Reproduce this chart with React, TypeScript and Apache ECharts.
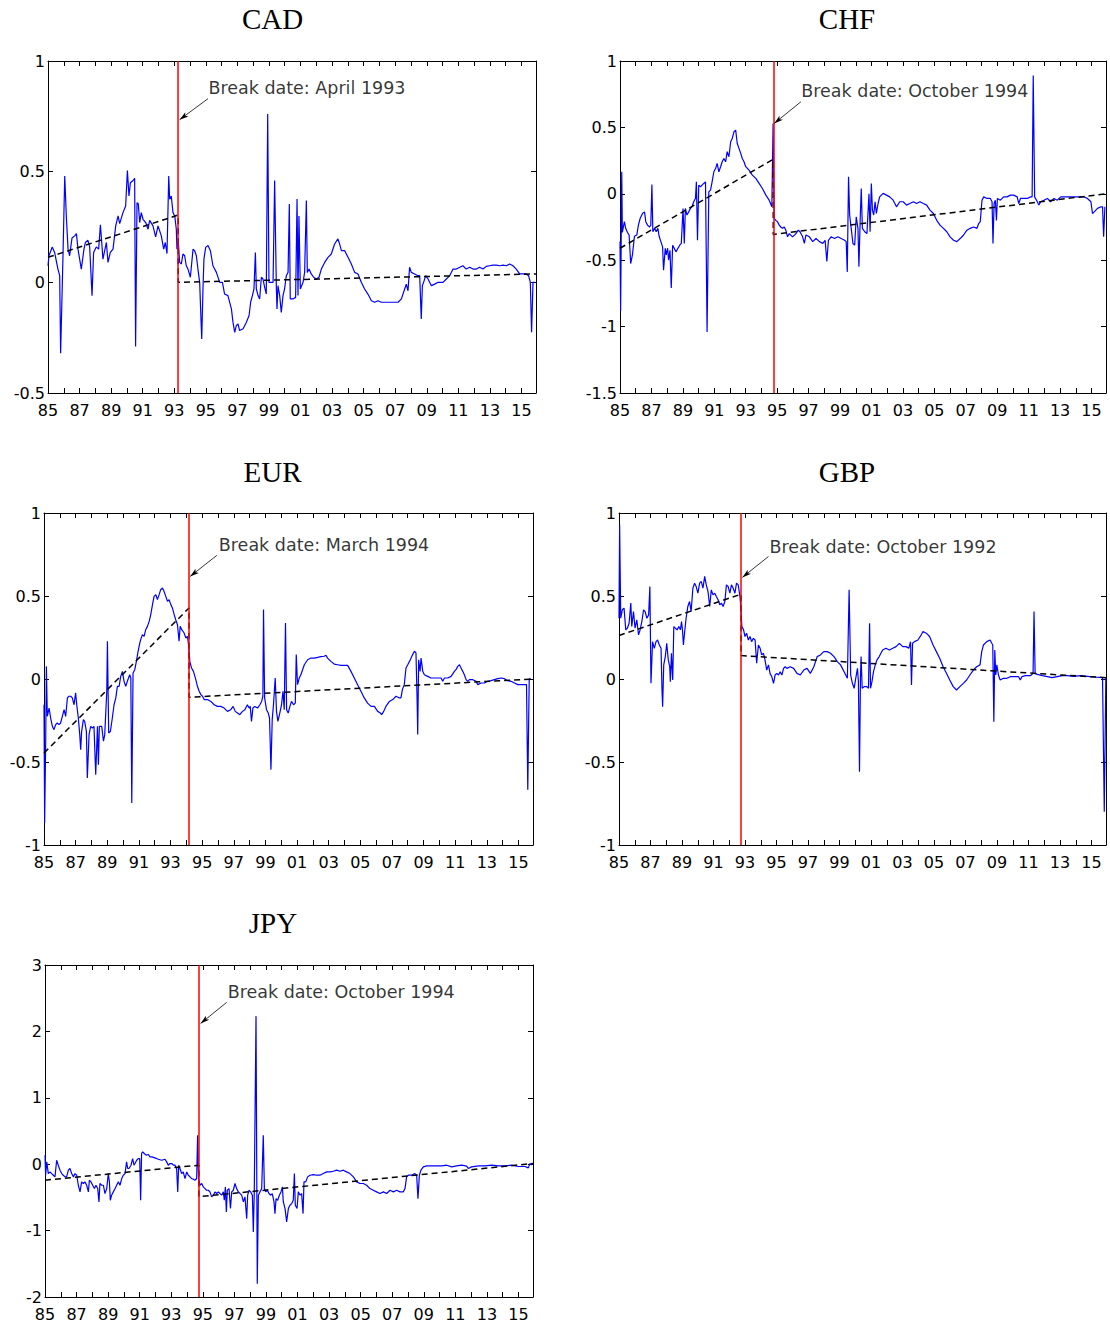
import React, { useEffect, useRef } from 'react';
import * as echarts from 'echarts';

const X_MIN = 1985;
const X_MAX = 2015.92;

// [year, value]
const cadData: [number, number][] = [
  [1985.00,0.075],[1985.06,0.12],[1985.27,0.16],[1985.42,0.135],[1985.63,0.06],[1985.74,0.03],[1985.80,-0.32],[1985.95,0.12],[1986.06,0.48],[1986.16,0.30],[1986.27,0.15],[1986.37,0.12],[1986.52,0.20],[1986.69,0.21],[1986.80,0.22],[1986.90,0.15],[1987.11,0.06],[1987.28,0.15],[1987.37,0.18],[1987.53,0.19],[1987.64,0.16],[1987.79,-0.06],[1987.89,0.135],[1988.06,0.16],[1988.21,0.15],[1988.32,0.26],[1988.42,0.165],[1988.48,0.105],[1988.70,0.18],[1988.80,0.09],[1988.95,0.135],[1989.12,0.15],[1989.29,0.255],[1989.44,0.30],[1989.54,0.265],[1989.75,0.315],[1989.92,0.345],[1990.03,0.505],[1990.13,0.39],[1990.22,0.45],[1990.39,0.46],[1990.49,0.47],[1990.55,-0.29],[1990.64,0.36],[1990.72,0.355],[1990.81,0.27],[1990.91,0.315],[1991.02,0.285],[1991.19,0.27],[1991.34,0.24],[1991.44,0.28],[1991.65,0.255],[1991.82,0.205],[1991.97,0.255],[1992.18,0.21],[1992.33,0.15],[1992.43,0.18],[1992.54,0.13],[1992.65,0.48],[1992.71,0.375],[1992.81,0.39],[1992.92,0.315],[1993.03,0.30],[1993.13,0.24],[1993.17,0.15],[1993.26,0.18],[1993.34,0.09],[1993.45,0.083],[1993.55,0.128],[1993.66,0.12],[1993.76,0.075],[1993.87,0.06],[1994.02,0.023],[1994.19,0.15],[1994.29,0.143],[1994.40,0.12],[1994.50,0.06],[1994.61,0.0],[1994.67,-0.12],[1994.74,-0.256],[1994.82,-0.03],[1994.88,0.105],[1994.99,0.158],[1995.14,0.166],[1995.29,0.143],[1995.45,0.075],[1995.67,0.045],[1995.88,0.0],[1996.05,0.0],[1996.19,-0.053],[1996.40,-0.06],[1996.62,-0.12],[1996.72,-0.18],[1996.83,-0.226],[1996.93,-0.196],[1997.04,-0.188],[1997.14,-0.218],[1997.36,-0.21],[1997.57,-0.18],[1997.74,-0.15],[1997.84,-0.09],[1997.95,-0.06],[1998.05,-0.03],[1998.14,0.135],[1998.20,-0.03],[1998.31,-0.06],[1998.41,-0.075],[1998.52,0.023],[1998.62,0.015],[1998.75,-0.03],[1998.83,-0.053],[1998.92,0.76],[1999.00,0.0],[1999.15,0.0],[1999.26,0.0],[1999.36,0.46],[1999.47,-0.03],[1999.51,-0.12],[1999.57,-0.015],[1999.68,-0.06],[1999.78,-0.136],[1999.89,-0.06],[1999.99,-0.03],[2000.10,0.03],[2000.21,0.045],[2000.29,0.354],[2000.35,-0.075],[2000.52,-0.075],[2000.69,-0.068],[2000.78,0.376],[2000.84,-0.06],[2000.90,0.30],[2000.99,-0.03],[2001.07,-0.015],[2001.16,0.0],[2001.26,0.045],[2001.37,0.37],[2001.43,0.045],[2001.54,0.06],[2001.68,0.038],[2001.83,0.023],[2002.00,0.015],[2002.17,0.023],[2002.32,0.06],[2002.53,0.09],[2002.74,0.113],[2002.95,0.128],[2003.16,0.173],[2003.37,0.196],[2003.48,0.173],[2003.59,0.143],[2003.80,0.143],[2004.01,0.113],[2004.22,0.083],[2004.43,0.045],[2004.64,0.038],[2004.85,0.0],[2005.06,-0.03],[2005.27,-0.053],[2005.49,-0.083],[2005.70,-0.09],[2005.91,-0.083],[2006.12,-0.09],[2006.33,-0.09],[2006.54,-0.09],[2006.86,-0.09],[2007.18,-0.09],[2007.39,-0.075],[2007.60,-0.03],[2007.70,-0.008],[2007.81,-0.038],[2007.91,0.068],[2008.02,0.045],[2008.23,0.038],[2008.44,0.03],[2008.55,0.03],[2008.65,-0.166],[2008.72,-0.015],[2008.80,0.0],[2008.93,0.03],[2009.08,0.015],[2009.29,-0.015],[2009.50,-0.008],[2009.71,0.0],[2010.03,0.0],[2010.24,0.015],[2010.45,0.03],[2010.66,0.06],[2010.87,0.06],[2011.09,0.068],[2011.29,0.075],[2011.50,0.06],[2011.72,0.068],[2011.93,0.06],[2012.14,0.06],[2012.35,0.068],[2012.56,0.06],[2012.77,0.072],[2012.98,0.075],[2013.19,0.078],[2013.41,0.078],[2013.62,0.075],[2013.83,0.078],[2014.04,0.075],[2014.25,0.083],[2014.46,0.075],[2014.67,0.06],[2014.88,0.038],[2015.31,0.038],[2015.45,0.03],[2015.56,0.0],[2015.64,-0.226],[2015.73,0.0],[2015.84,0.0]
];

const chfData: [number, number][] = [
  [1985.00,-0.36],[1985.04,-0.88],[1985.11,0.166],[1985.15,-0.29],[1985.28,-0.21],[1985.36,-0.26],[1985.47,-0.29],[1985.58,-0.31],[1985.68,-0.525],[1985.79,-0.46],[1985.92,-0.32],[1986.07,-0.31],[1986.17,-0.236],[1986.28,-0.186],[1986.43,-0.148],[1986.56,-0.136],[1986.64,-0.21],[1986.75,-0.236],[1986.88,-0.25],[1986.96,-0.236],[1987.03,0.07],[1987.09,-0.286],[1987.20,-0.26],[1987.30,-0.286],[1987.41,-0.26],[1987.49,-0.32],[1987.60,-0.36],[1987.71,-0.40],[1987.77,-0.575],[1987.88,-0.41],[1987.94,-0.46],[1988.03,-0.41],[1988.09,-0.50],[1988.18,-0.425],[1988.26,-0.71],[1988.35,-0.387],[1988.45,-0.41],[1988.56,-0.437],[1988.69,-0.41],[1988.80,-0.387],[1988.90,-0.374],[1989.01,-0.11],[1989.09,-0.374],[1989.16,-0.11],[1989.26,-0.16],[1989.37,-0.136],[1989.48,-0.11],[1989.58,-0.098],[1989.69,-0.06],[1989.80,-0.035],[1989.86,0.09],[1989.93,-0.35],[1990.01,0.065],[1990.12,0.053],[1990.22,0.065],[1990.33,0.078],[1990.44,0.09],[1990.54,-1.04],[1990.65,0.015],[1990.76,0.028],[1990.86,0.09],[1990.97,0.166],[1991.08,0.19],[1991.18,0.229],[1991.29,0.166],[1991.40,0.204],[1991.50,0.241],[1991.61,0.266],[1991.72,0.241],[1991.82,0.317],[1991.93,0.279],[1992.04,0.392],[1992.14,0.417],[1992.25,0.467],[1992.36,0.48],[1992.46,0.379],[1992.57,0.342],[1992.68,0.304],[1992.78,0.266],[1992.89,0.241],[1993.00,0.204],[1993.21,0.178],[1993.42,0.141],[1993.64,0.116],[1993.85,0.078],[1994.06,0.04],[1994.28,-0.01],[1994.49,-0.048],[1994.66,-0.098],[1994.74,0.53],[1994.81,-0.186],[1994.91,-0.2],[1995.02,-0.21],[1995.13,-0.236],[1995.23,-0.25],[1995.34,-0.26],[1995.45,-0.25],[1995.55,-0.274],[1995.66,-0.324],[1995.77,-0.30],[1995.98,-0.324],[1996.19,-0.30],[1996.34,-0.274],[1996.45,-0.286],[1996.62,-0.324],[1996.73,-0.374],[1996.83,-0.31],[1997.05,-0.324],[1997.26,-0.36],[1997.47,-0.337],[1997.69,-0.36],[1997.90,-0.374],[1998.05,-0.35],[1998.16,-0.51],[1998.26,-0.35],[1998.43,-0.324],[1998.65,-0.337],[1998.86,-0.324],[1999.07,-0.337],[1999.29,-0.35],[1999.39,-0.36],[1999.46,-0.588],[1999.54,0.128],[1999.61,-0.16],[1999.71,-0.26],[1999.82,-0.374],[1999.93,-0.387],[2000.03,-0.173],[2000.14,-0.26],[2000.20,-0.55],[2000.29,-0.16],[2000.35,0.04],[2000.42,-0.26],[2000.57,-0.286],[2000.71,-0.30],[2000.84,0.0],[2000.91,-0.286],[2000.99,0.078],[2001.06,-0.123],[2001.14,-0.16],[2001.23,-0.06],[2001.31,-0.148],[2001.42,-0.073],[2001.52,-0.023],[2001.74,0.003],[2001.95,-0.01],[2002.16,-0.023],[2002.38,-0.048],[2002.59,-0.098],[2002.80,-0.06],[2003.02,-0.06],[2003.23,-0.085],[2003.44,-0.073],[2003.66,-0.06],[2003.87,-0.073],[2004.08,-0.06],[2004.30,-0.073],[2004.51,-0.085],[2004.72,-0.123],[2004.94,-0.148],[2005.15,-0.2],[2005.36,-0.236],[2005.58,-0.26],[2005.79,-0.286],[2006.00,-0.324],[2006.22,-0.35],[2006.43,-0.36],[2006.64,-0.337],[2006.86,-0.31],[2007.07,-0.274],[2007.28,-0.26],[2007.50,-0.25],[2007.71,-0.26],[2007.82,-0.224],[2007.92,-0.21],[2008.03,-0.048],[2008.14,-0.023],[2008.35,-0.035],[2008.56,-0.035],[2008.67,-0.06],[2008.73,-0.374],[2008.80,-0.073],[2008.88,-0.048],[2008.95,-0.2],[2009.01,-0.035],[2009.20,-0.048],[2009.41,-0.023],[2009.63,-0.023],[2009.84,-0.01],[2010.05,-0.01],[2010.27,-0.023],[2010.37,-0.073],[2010.48,-0.035],[2010.69,-0.035],[2010.91,-0.035],[2011.12,-0.023],[2011.22,-0.023],[2011.29,0.89],[2011.38,-0.023],[2011.55,-0.06],[2011.65,-0.085],[2011.76,-0.06],[2011.97,-0.048],[2012.19,-0.035],[2012.40,-0.06],[2012.61,-0.035],[2012.82,-0.048],[2013.04,-0.023],[2013.25,-0.023],[2013.68,-0.023],[2014.10,-0.023],[2014.53,-0.023],[2014.74,-0.035],[2014.96,-0.06],[2015.06,-0.148],[2015.17,-0.136],[2015.38,-0.11],[2015.60,-0.098],[2015.70,-0.098],[2015.77,-0.324],[2015.85,-0.098]
];

const eurData: [number, number][] = [
  [1985.00,-0.155],[1985.04,-0.867],[1985.11,-0.355],[1985.15,0.076],[1985.21,-0.225],[1985.32,-0.175],[1985.42,-0.235],[1985.53,-0.285],[1985.63,-0.305],[1985.74,-0.275],[1985.84,-0.265],[1985.95,-0.275],[1986.05,-0.265],[1986.16,-0.225],[1986.27,-0.185],[1986.37,-0.225],[1986.48,-0.114],[1986.58,-0.104],[1986.69,-0.104],[1986.79,-0.114],[1986.90,-0.155],[1987.00,-0.084],[1987.07,-0.155],[1987.17,-0.235],[1987.26,-0.335],[1987.32,-0.426],[1987.38,-0.315],[1987.49,-0.245],[1987.57,-0.255],[1987.68,-0.315],[1987.74,-0.596],[1987.85,-0.335],[1987.95,-0.285],[1988.06,-0.295],[1988.16,-0.285],[1988.27,-0.576],[1988.38,-0.285],[1988.44,-0.516],[1988.50,-0.285],[1988.65,-0.285],[1988.76,-0.375],[1988.84,-0.335],[1988.97,-0.074],[1989.01,0.227],[1989.09,-0.325],[1989.20,-0.315],[1989.32,-0.235],[1989.43,-0.155],[1989.54,-0.114],[1989.64,-0.044],[1989.75,-0.044],[1989.85,0.016],[1989.96,0.046],[1990.06,-0.014],[1990.17,-0.044],[1990.27,-0.014],[1990.42,0.026],[1990.49,0.006],[1990.55,-0.747],[1990.63,0.036],[1990.74,0.056],[1990.84,0.106],[1990.95,0.167],[1991.08,0.227],[1991.22,0.267],[1991.33,0.257],[1991.43,0.297],[1991.54,0.317],[1991.65,0.347],[1991.75,0.388],[1991.86,0.448],[1991.96,0.498],[1992.07,0.508],[1992.17,0.478],[1992.28,0.508],[1992.38,0.538],[1992.49,0.548],[1992.59,0.528],[1992.70,0.498],[1992.81,0.468],[1992.91,0.478],[1993.02,0.448],[1993.12,0.428],[1993.23,0.388],[1993.33,0.357],[1993.44,0.327],[1993.54,0.227],[1993.61,0.317],[1993.71,0.297],[1993.86,0.277],[1993.97,0.247],[1994.07,0.257],[1994.14,0.207],[1994.22,0.106],[1994.33,0.066],[1994.45,0.046],[1994.60,-0.004],[1994.70,-0.044],[1994.81,-0.074],[1994.92,-0.094],[1995.02,-0.104],[1995.13,-0.124],[1995.34,-0.124],[1995.55,-0.135],[1995.76,-0.155],[1995.97,-0.165],[1996.18,-0.165],[1996.39,-0.175],[1996.60,-0.195],[1996.81,-0.185],[1996.96,-0.165],[1997.09,-0.195],[1997.24,-0.205],[1997.38,-0.215],[1997.55,-0.195],[1997.70,-0.185],[1997.86,-0.155],[1997.97,-0.175],[1998.04,-0.165],[1998.12,-0.255],[1998.21,-0.175],[1998.33,-0.165],[1998.50,-0.175],[1998.65,-0.155],[1998.76,-0.135],[1998.84,-0.104],[1998.88,0.418],[1998.95,-0.114],[1999.07,-0.185],[1999.18,-0.205],[1999.26,-0.235],[1999.35,-0.546],[1999.43,-0.245],[1999.51,-0.155],[1999.62,0.006],[1999.70,-0.195],[1999.79,-0.255],[1999.89,-0.215],[2000.02,-0.155],[2000.11,-0.074],[2000.19,-0.185],[2000.27,0.337],[2000.34,-0.185],[2000.44,-0.205],[2000.55,-0.165],[2000.65,-0.135],[2000.78,-0.155],[2000.89,-0.145],[2000.95,0.147],[2001.03,-0.034],[2001.14,0.006],[2001.24,0.026],[2001.46,0.086],[2001.67,0.116],[2001.88,0.126],[2002.09,0.126],[2002.30,0.13],[2002.51,0.135],[2002.72,0.137],[2002.83,0.143],[2002.93,0.126],[2003.14,0.106],[2003.35,0.09],[2003.57,0.086],[2003.78,0.082],[2003.99,0.082],[2004.20,0.082],[2004.41,0.046],[2004.62,0.006],[2004.83,-0.034],[2005.04,-0.074],[2005.25,-0.114],[2005.46,-0.145],[2005.68,-0.165],[2005.89,-0.165],[2006.10,-0.195],[2006.27,-0.205],[2006.35,-0.215],[2006.48,-0.195],[2006.62,-0.165],[2006.84,-0.135],[2007.05,-0.124],[2007.26,-0.104],[2007.47,-0.114],[2007.57,-0.114],[2007.66,-0.064],[2007.78,-0.034],[2007.89,0.066],[2008.00,0.086],[2008.16,0.116],[2008.31,0.147],[2008.42,0.167],[2008.52,0.157],[2008.59,-0.114],[2008.63,-0.335],[2008.69,0.116],[2008.78,0.046],[2008.84,0.126],[2008.95,0.046],[2009.05,0.026],[2009.26,0.016],[2009.47,0.006],[2009.68,0.006],[2009.89,0.006],[2010.11,0.006],[2010.21,-0.014],[2010.32,0.006],[2010.53,0.006],[2010.74,0.016],[2010.95,0.046],[2011.05,0.056],[2011.16,0.076],[2011.27,0.086],[2011.37,0.066],[2011.48,0.046],[2011.58,0.026],[2011.69,-0.004],[2011.79,-0.014],[2011.90,-0.004],[2012.11,-0.004],[2012.32,-0.014],[2012.43,-0.034],[2012.64,-0.024],[2012.85,-0.024],[2013.06,-0.014],[2013.27,-0.01],[2013.48,-0.004],[2013.69,0.002],[2013.91,0.006],[2014.11,0.002],[2014.32,-0.01],[2014.53,-0.014],[2014.75,-0.024],[2014.96,-0.034],[2015.17,-0.034],[2015.38,-0.034],[2015.51,-0.034],[2015.59,-0.667],[2015.68,-0.004],[2015.76,0.006]
];

const gbpData: [number, number][] = [
  [1985.00,0.366],[1985.04,0.93],[1985.11,0.366],[1985.21,0.417],[1985.32,0.427],[1985.43,0.296],[1985.53,0.306],[1985.64,0.336],[1985.75,0.457],[1985.81,0.316],[1985.92,0.406],[1986.02,0.306],[1986.13,0.356],[1986.24,0.266],[1986.34,0.296],[1986.45,0.346],[1986.56,0.417],[1986.66,0.406],[1986.77,0.366],[1986.88,0.386],[1986.96,0.557],[1987.03,-0.026],[1987.13,0.225],[1987.24,0.185],[1987.35,0.225],[1987.45,0.235],[1987.56,0.205],[1987.67,0.185],[1987.73,-0.066],[1987.77,-0.167],[1987.84,0.085],[1987.94,0.135],[1988.03,0.215],[1988.13,0.115],[1988.22,0.074],[1988.26,-0.016],[1988.33,0.155],[1988.41,-0.006],[1988.48,0.316],[1988.58,0.306],[1988.69,0.296],[1988.80,0.316],[1988.90,0.296],[1988.97,0.346],[1989.03,0.296],[1989.09,0.205],[1989.16,0.276],[1989.26,0.366],[1989.37,0.437],[1989.48,0.467],[1989.58,0.406],[1989.69,0.547],[1989.80,0.577],[1989.90,0.557],[1990.01,0.517],[1990.12,0.577],[1990.22,0.588],[1990.33,0.547],[1990.44,0.618],[1990.54,0.567],[1990.65,0.527],[1990.76,0.437],[1990.86,0.537],[1990.97,0.507],[1991.08,0.517],[1991.18,0.497],[1991.29,0.477],[1991.40,0.447],[1991.50,0.457],[1991.61,0.437],[1991.72,0.467],[1991.82,0.567],[1991.93,0.557],[1992.04,0.517],[1992.14,0.567],[1992.25,0.547],[1992.36,0.517],[1992.46,0.577],[1992.57,0.567],[1992.68,0.497],[1992.74,0.427],[1992.80,0.316],[1992.91,0.296],[1993.00,0.256],[1993.10,0.276],[1993.21,0.235],[1993.32,0.256],[1993.42,0.225],[1993.53,0.245],[1993.64,0.235],[1993.74,0.095],[1993.85,0.205],[1993.96,0.185],[1994.06,0.145],[1994.17,0.155],[1994.27,0.115],[1994.38,0.054],[1994.49,0.085],[1994.59,0.034],[1994.70,0.014],[1994.81,-0.026],[1994.91,0.024],[1995.02,0.034],[1995.13,0.024],[1995.23,0.044],[1995.34,0.024],[1995.45,0.064],[1995.55,0.074],[1995.66,0.064],[1995.87,0.074],[1996.09,0.064],[1996.30,0.034],[1996.51,0.024],[1996.73,0.054],[1996.94,0.064],[1997.15,0.034],[1997.37,0.074],[1997.58,0.135],[1997.79,0.145],[1998.00,0.165],[1998.22,0.165],[1998.43,0.155],[1998.65,0.135],[1998.86,0.105],[1999.07,0.085],[1999.29,0.044],[1999.50,0.004],[1999.61,0.537],[1999.71,0.024],[1999.82,-0.026],[1999.93,-0.056],[2000.03,0.004],[2000.14,0.064],[2000.20,-0.016],[2000.27,-0.559],[2000.33,0.004],[2000.37,0.135],[2000.44,-0.056],[2000.57,-0.046],[2000.73,-0.046],[2000.84,-0.056],[2000.91,0.336],[2000.97,-0.056],[2001.06,-0.016],[2001.16,0.044],[2001.27,0.085],[2001.38,0.115],[2001.52,0.135],[2001.74,0.175],[2001.95,0.185],[2002.16,0.175],[2002.38,0.185],[2002.59,0.195],[2002.80,0.215],[2003.02,0.195],[2003.23,0.195],[2003.40,0.185],[2003.51,0.225],[2003.57,-0.036],[2003.64,0.215],[2003.76,0.225],[2003.98,0.235],[2004.19,0.266],[2004.30,0.286],[2004.51,0.276],[2004.72,0.256],[2004.94,0.205],[2005.15,0.165],[2005.36,0.125],[2005.58,0.074],[2005.79,0.034],[2006.00,-0.006],[2006.22,-0.046],[2006.43,-0.066],[2006.64,-0.046],[2006.86,-0.026],[2007.07,-0.006],[2007.28,0.024],[2007.50,0.054],[2007.71,0.074],[2007.92,0.085],[2008.03,0.165],[2008.14,0.205],[2008.35,0.225],[2008.56,0.235],[2008.67,0.215],[2008.73,0.205],[2008.80,-0.258],[2008.86,0.175],[2008.92,0.024],[2008.99,0.085],[2009.09,0.024],[2009.20,-0.006],[2009.41,0.004],[2009.63,0.004],[2009.84,0.014],[2010.16,0.014],[2010.37,0.014],[2010.48,-0.006],[2010.58,0.014],[2010.80,0.02],[2011.12,0.02],[2011.29,0.034],[2011.35,0.406],[2011.42,0.034],[2011.55,0.028],[2011.87,0.02],[2012.19,0.014],[2012.50,0.008],[2012.82,0.014],[2013.14,0.02],[2013.46,0.02],[2013.88,0.016],[2014.31,0.02],[2014.74,0.016],[2015.17,0.012],[2015.70,0.008],[2015.81,-0.80],[2015.91,0.004]
];

const jpyData: [number, number][] = [
  [1985.00,0.136],[1985.04,-0.166],[1985.11,0.035],[1985.21,-0.141],[1985.32,-0.116],[1985.42,-0.141],[1985.53,-0.166],[1985.63,-0.191],[1985.74,0.06],[1985.84,-0.015],[1985.95,-0.09],[1986.06,-0.141],[1986.16,-0.166],[1986.27,-0.191],[1986.37,-0.191],[1986.48,-0.09],[1986.58,-0.065],[1986.69,-0.141],[1986.80,-0.191],[1986.90,-0.141],[1987.01,-0.166],[1987.11,-0.317],[1987.22,-0.417],[1987.32,-0.266],[1987.43,-0.291],[1987.53,-0.266],[1987.64,-0.317],[1987.75,-0.417],[1987.81,-0.241],[1987.91,-0.266],[1988.02,-0.317],[1988.13,-0.367],[1988.23,-0.317],[1988.34,-0.367],[1988.42,-0.568],[1988.48,-0.291],[1988.59,-0.317],[1988.70,-0.317],[1988.80,-0.442],[1988.91,-0.367],[1989.01,-0.141],[1989.08,-0.266],[1989.14,-0.543],[1989.22,-0.467],[1989.33,-0.417],[1989.44,-0.367],[1989.54,-0.317],[1989.65,-0.266],[1989.75,-0.317],[1989.86,-0.216],[1989.96,-0.166],[1990.07,-0.141],[1990.17,0.035],[1990.24,-0.065],[1990.32,-0.065],[1990.45,-0.015],[1990.55,0.085],[1990.64,-0.015],[1990.70,0.01],[1990.81,0.06],[1990.91,0.085],[1991.00,0.085],[1991.06,-0.543],[1991.12,0.161],[1991.19,0.186],[1991.29,0.161],[1991.40,0.136],[1991.55,0.146],[1991.65,0.111],[1991.76,0.111],[1991.97,0.095],[1992.18,0.075],[1992.39,0.06],[1992.60,0.075],[1992.71,0.035],[1992.81,-0.015],[1992.92,0.01],[1993.03,0.01],[1993.13,-0.015],[1993.24,-0.015],[1993.34,-0.065],[1993.41,-0.417],[1993.47,-0.015],[1993.55,-0.065],[1993.66,-0.141],[1993.76,-0.116],[1993.87,-0.216],[1993.98,-0.116],[1994.08,-0.166],[1994.19,-0.191],[1994.29,-0.216],[1994.40,-0.226],[1994.50,-0.241],[1994.61,-0.216],[1994.67,0.437],[1994.73,-0.216],[1994.82,-0.317],[1994.93,-0.291],[1995.03,-0.342],[1995.14,-0.367],[1995.24,-0.392],[1995.35,-0.392],[1995.45,-0.417],[1995.56,-0.492],[1995.67,-0.467],[1995.77,-0.417],[1995.88,-0.442],[1995.98,-0.417],[1996.09,-0.442],[1996.19,-0.467],[1996.30,-0.417],[1996.36,-0.543],[1996.43,-0.342],[1996.49,-0.719],[1996.55,-0.392],[1996.66,-0.367],[1996.75,-0.668],[1996.83,-0.417],[1996.93,-0.392],[1997.04,-0.291],[1997.14,-0.367],[1997.25,-0.417],[1997.36,-0.442],[1997.46,-0.467],[1997.57,-0.568],[1997.67,-0.492],[1997.78,-0.819],[1997.84,-0.467],[1997.93,-0.392],[1998.03,-0.417],[1998.14,-0.467],[1998.20,-1.02],[1998.26,-0.417],[1998.37,2.23],[1998.45,-1.80],[1998.52,-0.467],[1998.62,-0.417],[1998.73,-0.367],[1998.83,0.437],[1998.90,-0.367],[1998.98,-0.417],[1999.09,-0.392],[1999.19,-0.442],[1999.30,-0.467],[1999.40,-0.442],[1999.51,-0.568],[1999.57,-0.744],[1999.64,-0.518],[1999.74,-0.543],[1999.85,-0.467],[1999.95,-0.417],[2000.04,-0.342],[2000.10,-0.568],[2000.21,-0.668],[2000.31,-0.869],[2000.42,-0.668],[2000.52,-0.618],[2000.63,-0.593],[2000.73,-0.543],[2000.80,-0.141],[2000.86,-0.618],[2000.97,-0.668],[2001.05,-0.417],[2001.16,-0.467],[2001.26,-0.442],[2001.35,-0.744],[2001.41,-0.266],[2001.52,-0.266],[2001.64,-0.191],[2001.79,-0.166],[2002.00,-0.156],[2002.21,-0.166],[2002.42,-0.166],[2002.63,-0.141],[2002.85,-0.116],[2003.06,-0.116],[2003.27,-0.106],[2003.48,-0.09],[2003.69,-0.106],[2003.90,-0.09],[2004.11,-0.116],[2004.32,-0.141],[2004.54,-0.191],[2004.75,-0.266],[2004.96,-0.291],[2005.17,-0.291],[2005.38,-0.317],[2005.59,-0.367],[2005.80,-0.392],[2006.01,-0.417],[2006.22,-0.442],[2006.44,-0.417],[2006.65,-0.442],[2006.86,-0.392],[2007.07,-0.417],[2007.28,-0.392],[2007.49,-0.417],[2007.70,-0.417],[2007.81,-0.367],[2007.91,-0.191],[2008.02,-0.166],[2008.23,-0.166],[2008.44,-0.141],[2008.55,-0.166],[2008.63,-0.518],[2008.72,-0.166],[2008.82,-0.09],[2008.97,-0.04],[2009.18,-0.025],[2009.50,-0.025],[2009.82,-0.025],[2010.13,-0.025],[2010.45,-0.015],[2010.77,-0.04],[2011.08,-0.025],[2011.40,-0.015],[2011.72,-0.03],[2011.82,-0.065],[2012.03,-0.04],[2012.46,-0.025],[2012.88,-0.025],[2013.30,-0.015],[2013.72,-0.025],[2014.14,-0.025],[2014.57,-0.015],[2014.99,-0.035],[2015.41,-0.035],[2015.62,-0.055],[2015.73,0.01],[2015.83,-0.015]
];

// break dates (fraction of year) and fitted broken trends
const breakDates = { CAD: 1993.25, CHF: 1994.75, EUR: 1994.17, GBP: 1992.75, JPY: 1994.75 };
const breakLabels = {
  CAD: 'Break date: April 1993',
  CHF: 'Break date: October 1994',
  EUR: 'Break date: March 1994',
  GBP: 'Break date: October 1992',
  JPY: 'Break date: October 1994',
};
const cadTrend: [number, number][] = [[1985, 0.113], [1993.25, 0.304], [1993.25, 0.0], [2015.92, 0.038]];
const chfTrend: [number, number][] = [[1985, -0.41], [1994.75, 0.26], [1994.75, -0.306], [2015.92, 0.0]];
const eurTrend: [number, number][] = [[1985, -0.446], [1994.17, 0.428], [1994.17, -0.11], [2015.92, 0.0]];
const gbpTrend: [number, number][] = [[1985, 0.262], [1992.75, 0.511], [1992.75, 0.141], [2015.92, 0.008]];
const jpyTrend: [number, number][] = [[1985, -0.241], [1994.75, -0.015], [1994.75, -0.49], [2015.92, 0.01]];

const yRanges = {
  CAD: [-0.5, 1, 0.5],
  CHF: [-1.5, 1, 0.5],
  EUR: [-1, 1, 0.5],
  GBP: [-1, 1, 0.5],
  JPY: [-2, 3, 1],
};

// annotation anchors in data units: text start, arrow tail, arrow head
const annot = {
  CAD: { text: [1995.1, 0.878], tail: [1995.14, 0.83], head: [1993.34, 0.735] },
  CHF: { text: [1996.47, 0.774], tail: [1996.51, 0.693], head: [1994.81, 0.53] },
  EUR: { text: [1995.99, 0.807], tail: [1995.93, 0.745], head: [1994.24, 0.618] },
  GBP: { text: [1994.49, 0.797], tail: [1994.49, 0.738], head: [1992.83, 0.612] },
  JPY: { text: [1996.51, 2.598], tail: [1996.51, 2.437], head: [1994.86, 2.12] },
};

const layout = [
  { key: 'CAD', data: cadData, trend: cadTrend, grid: { left: 48, top: 61, width: 488, height: 332 }, title: [272.5, 19] },
  { key: 'CHF', data: chfData, trend: chfTrend, grid: { left: 620, top: 61, width: 486, height: 332 }, title: [847, 19] },
  { key: 'EUR', data: eurData, trend: eurTrend, grid: { left: 44, top: 513, width: 489, height: 332 }, title: [272.5, 472] },
  { key: 'GBP', data: gbpData, trend: gbpTrend, grid: { left: 619, top: 513, width: 487, height: 332 }, title: [847, 472] },
  { key: 'JPY', data: jpyData, trend: jpyTrend, grid: { left: 45, top: 965, width: 488, height: 332 }, title: [273, 923] },
];

const SANS = 'DejaVu Sans';
const SERIF = 'Liberation Serif';

function buildOption() {
  const grids: any[] = [];
  const xAxes: any[] = [];
  const yAxes: any[] = [];
  const series: any[] = [];
  const graphics: any[] = [];

  layout.forEach((p, i) => {
    const key = p.key as keyof typeof yRanges;
    const [ymin, ymax, yint] = yRanges[key];
    grids.push({ ...p.grid, containLabel: false });
    const axLine = { show: true, onZero: false, lineStyle: { color: '#000', width: 1 } };
    const tick = { show: true, inside: true, length: 5, lineStyle: { color: '#000', width: 1 } };
    xAxes.push({
      type: 'value', gridIndex: i, position: 'bottom', min: X_MIN, max: X_MAX, interval: 1,
      axisLine: axLine, axisTick: tick, splitLine: { show: false },
      axisLabel: {
        show: true, margin: 9, color: '#000', fontFamily: SANS, fontSize: 16,
        formatter: (v: number) => {
          const r = Math.round(v);
          if ((r - 1985) % 2 !== 0) return '';
          return String(r % 100).padStart(2, '0');
        },
      },
    });
    xAxes.push({
      type: 'value', gridIndex: i, position: 'top', min: X_MIN, max: X_MAX, interval: 1,
      axisLine: axLine, axisTick: tick, splitLine: { show: false }, axisLabel: { show: false },
    });
    yAxes.push({
      type: 'value', gridIndex: i, position: 'left', min: ymin, max: ymax, interval: yint,
      axisLine: axLine, axisTick: tick, splitLine: { show: false },
      axisLabel: { show: true, margin: 3, color: '#000', fontFamily: SANS, fontSize: 16, padding: [5, 0, 0, 0] },
    });
    yAxes.push({
      type: 'value', gridIndex: i, position: 'right', min: ymin, max: ymax, interval: yint,
      axisLine: axLine, axisTick: tick, splitLine: { show: false }, axisLabel: { show: false },
    });

    const a = annot[key];
    series.push({
      type: 'line', xAxisIndex: 2 * i, yAxisIndex: 2 * i, data: p.data,
      showSymbol: false, symbol: 'none', z: 3,
      lineStyle: { color: '#0000ff', width: 1.2 },
      markLine: {
        silent: true, symbol: ['none', 'none'], label: { show: false }, z: 5,
        lineStyle: { color: '#ff0000', type: 'solid', width: 1.5 },
        data: [{ xAxis: breakDates[key] }],
      },
    });
    series.push({
      type: 'line', xAxisIndex: 2 * i, yAxisIndex: 2 * i, data: p.trend,
      showSymbol: false, symbol: 'none', z: 4,
      lineStyle: { color: '#000', width: 1.5, type: [6, 4] },
      markLine: {
        silent: true, symbol: ['none', 'arrow'], symbolSize: [4, 9], label: { show: false },
        lineStyle: { color: '#000', type: 'solid', width: 0.8 },
        data: [[{ coord: a.tail }, { coord: a.head }]],
      },
    });
    series.push({
      type: 'scatter', xAxisIndex: 2 * i, yAxisIndex: 2 * i, data: [a.text],
      symbol: 'circle', symbolSize: 2, itemStyle: { color: 'rgba(255,255,255,0)' }, silent: true, z: 6,
      label: {
        show: true, position: 'right', distance: 0, color: '#000',
        fontFamily: SANS, fontSize: 17.5, formatter: breakLabels[key],
      },
    });

    graphics.push({
      type: 'text', x: p.title[0], y: p.title[1],
      style: {
        text: key, fill: '#000', fontFamily: SERIF, fontSize: 29,
        textAlign: 'center', textVerticalAlign: 'middle', align: 'center', verticalAlign: 'middle',
      },
    });
  });

  return {
    animation: false,
    backgroundColor: '#fff',
    grid: grids,
    xAxis: xAxes,
    yAxis: yAxes,
    series,
    graphic: graphics,
  };
}

export default function App() {
  const ref = useRef<HTMLDivElement>(null);
  useEffect(() => {
    if (!ref.current) return;
    const chart = echarts.init(ref.current, undefined, { renderer: 'svg' });
    chart.setOption(buildOption() as any);
    return () => chart.dispose();
  }, []);
  return (
    <div
      ref={ref}
      style={{ position: 'absolute', left: 0, top: 0, width: 1110, height: 1327 }}
    />
  );
}
